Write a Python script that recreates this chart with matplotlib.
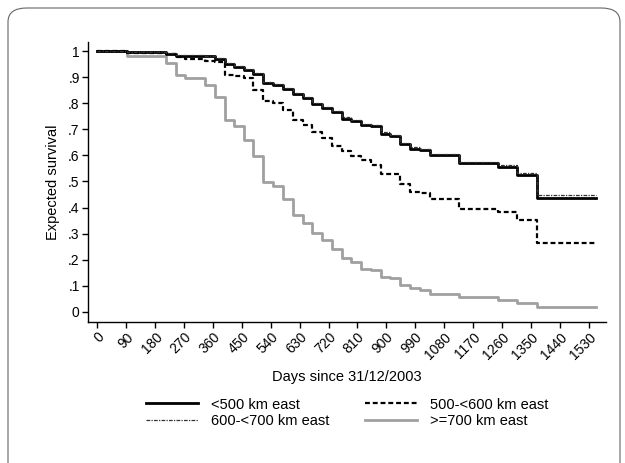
import numpy as np
import matplotlib.pyplot as plt
from matplotlib.patches import FancyBboxPatch

plt.rcParams['font.family'] = ['Liberation Sans', 'DejaVu Sans']

# step times (month ends, days since 31/12/2003) and survival per group
days = [0, 91, 213, 244, 274, 335, 366, 397, 425, 456, 486, 517, 547, 578,
        609, 639, 670, 700, 731, 762, 790, 821, 851, 882, 912, 943, 974,
        1004, 1035, 1127, 1247, 1308, 1369, 1552]

surv_lt500 = [1.0, 0.996, 0.990, 0.983, 0.982, 0.980, 0.971, 0.952, 0.941,
              0.929, 0.913, 0.877, 0.871, 0.856, 0.837, 0.821, 0.798, 0.782,
              0.766, 0.741, 0.731, 0.715, 0.711, 0.684, 0.673, 0.643, 0.626,
              0.620, 0.600, 0.569, 0.556, 0.524, 0.435, 0.435]

surv_500_600 = [1.0, 0.994, 0.990, 0.977, 0.971, 0.964, 0.958, 0.910, 0.903,
                0.897, 0.852, 0.807, 0.801, 0.773, 0.735, 0.715, 0.690, 0.667,
                0.635, 0.616, 0.597, 0.584, 0.562, 0.530, 0.528, 0.492, 0.460,
                0.454, 0.432, 0.396, 0.381, 0.351, 0.264, 0.264]

surv_600_700 = [1.0, 0.997, 0.992, 0.985, 0.984, 0.982, 0.973, 0.955, 0.944,
                0.932, 0.916, 0.881, 0.875, 0.860, 0.841, 0.825, 0.802, 0.787,
                0.771, 0.746, 0.736, 0.720, 0.716, 0.689, 0.678, 0.648, 0.631,
                0.625, 0.605, 0.574, 0.562, 0.531, 0.450, 0.450]

surv_ge700 = [1.0, 0.980, 0.954, 0.909, 0.898, 0.871, 0.826, 0.735, 0.712,
              0.660, 0.597, 0.498, 0.482, 0.431, 0.373, 0.339, 0.303, 0.275,
              0.240, 0.205, 0.192, 0.166, 0.162, 0.134, 0.128, 0.102, 0.090,
              0.083, 0.068, 0.055, 0.045, 0.035, 0.019, 0.019]

xticks = np.arange(0, 1531, 90)
yticks = [0, .1, .2, .3, .4, .5, .6, .7, .8, .9, 1]
ytick_labels = ['0', '.1', '.2', '.3', '.4', '.5', '.6', '.7', '.8', '.9', '1']

fig = plt.figure(figsize=(6.25, 4.63), dpi=100)
ax = fig.add_axes([0.1408, 0.3052, 0.8288, 0.604])

# outer rounded frame
frame = FancyBboxPatch((8 / 625, -0.2), 612 / 625, 1 - 8 / 463 + 0.2,
                       boxstyle='round,pad=0,rounding_size=0.03',
                       transform=fig.transFigure, fill=False,
                       edgecolor='#666666', linewidth=0.8, clip_on=False)
fig.patches.append(frame)

ax.plot(days, surv_ge700, drawstyle='steps-post', color='#a0a0a0', lw=2,
        label='>=700 km east')
ax.plot(days, surv_500_600, drawstyle='steps-post', color='black', lw=1.6,
        linestyle=(0, (2.2, 1.3)), label='500-<600 km east')
ax.plot(days, surv_lt500, drawstyle='steps-post', color='black', lw=2,
        label='<500 km east')
ax.plot(days, surv_600_700, drawstyle='steps-post', color='#333333', lw=0.9,
        linestyle=(0, (3, 1, 1, 1)), label='600-<700 km east')

ax.set_xlim(-29, 1584)
ax.set_ylim(-0.038, 1.035)
ax.set_xticks(xticks)
ax.set_xticklabels([str(t) for t in xticks], rotation=45, ha='right',
                   rotation_mode='anchor')
ax.set_yticks(yticks)
ax.set_yticklabels(ytick_labels)
ax.tick_params(direction='out', length=4, width=1, labelsize=10, pad=2)
for s in ['top', 'right']:
    ax.spines[s].set_visible(False)
for s in ['left', 'bottom']:
    ax.spines[s].set_linewidth(1)

ax.set_xlabel('Days since 31/12/2003', fontsize=10.5, labelpad=6)
ax.set_ylabel('Expected survival', fontsize=10.5, labelpad=6)

# legend fills column by column: <500, 600-<700 | 500-<600, >=700
h, l = ax.get_legend_handles_labels()
order = [2, 3, 1, 0]
fig.legend([h[i] for i in order], [l[i] for i in order], ncol=2,
           loc='center', bbox_to_anchor=(347 / 625, 1 - 413 / 463),
           frameon=False, fontsize=10.5, handlelength=3.6, columnspacing=2.4,
           labelspacing=0.2, handletextpad=0.9)

fig.savefig('out.png', dpi=100)
